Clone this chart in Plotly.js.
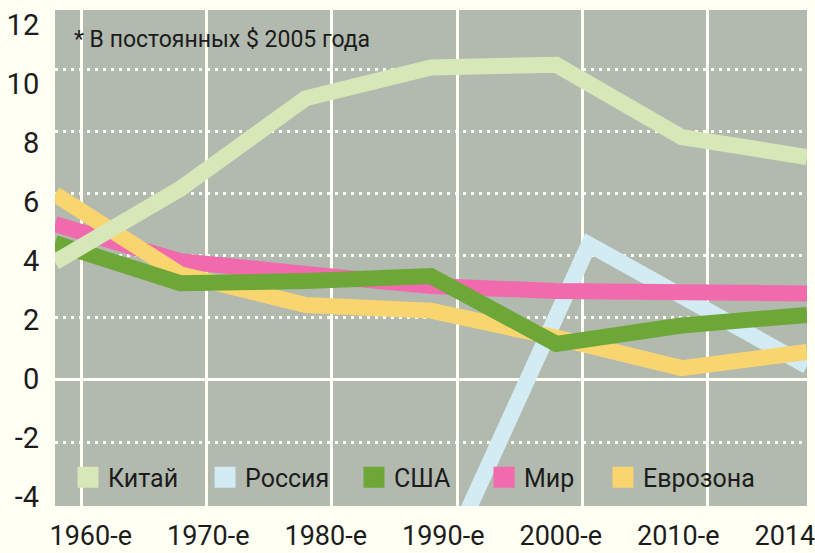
<!DOCTYPE html>
<html>
<head>
<meta charset="utf-8">
<script src="https://cdn.plot.ly/plotly-3.0.1.min.js"></script>
<style>
  html, body { margin: 0; padding: 0; background: #fffff4; }
  #chart { width: 815px; height: 553px; }
  #chart .scatterlayer path.js-line { stroke-linejoin: miter !important; }
</style>
</head>
<body>
<div id="chart"></div>
<script>
// ---- data ----
const categories = ['1960-е', '1970-е', '1980-е', '1990-е', '2000-е', '2010-е', '2014'];
const china    = [3.79, 6.15, 9.06, 10.05, 10.14, 7.81, 7.17];
const usa      = [4.40, 3.11, 3.18, 3.34, 1.16, 1.75, 2.09];
const world    = [5.01, 3.82, 3.41, 3.02, 2.86, 2.80, 2.78];
const eurozone = [5.97, 3.40, 2.41, 2.23, 1.36, 0.38, 0.90];
const russiaX  = [3.26, 4.26, 6];
const russia   = [-4.5, 4.36, 0.45];
const yTickVals = [-4, -2, 0, 2, 4, 6, 8, 10, 12];
const yTickText = ['-4', '-2', '0', '2', '4', '6', '8', '10', '12'];
const seriesNames = ['Китай', 'Россия', 'США', 'Мир', 'Еврозона'];
const note = '* В постоянных $ 2005 года';

// ---- styling ----
const colors = {
  'Китай': '#d7e8b8',
  'Россия': '#d3ebf2',
  'США': '#6ca737',
  'Мир': '#f26aae',
  'Еврозона': '#f9d56f'
};
const legendX = [0.0173, 0.1995, 0.3976, 0.5705, 0.7287];
const cream = '#fffff4';
const txt = '#1c1c1c';
const FONT = 'Roboto, "DejaVu Sans", sans-serif';
const xIdx = categories.map((_, i) => i);
const LW = 16;

function lineTrace(name, x, y) {
  return {
    type: 'scatter', mode: 'lines', name: name, x: x, y: y,
    line: { color: colors[name], width: LW },
    showlegend: false, hoverinfo: 'skip', xaxis: 'x', yaxis: 'y'
  };
}

const traces = [
  lineTrace('Россия', russiaX, russia),
  lineTrace('Мир', xIdx, world),
  lineTrace('Еврозона', xIdx, eurozone),
  lineTrace('США', xIdx, usa),
  lineTrace('Китай', xIdx, china)
];

const layout = {
  width: 815, height: 553,
  margin: { l: 55, r: 8, t: 10, b: 47 },
  paper_bgcolor: cream,
  plot_bgcolor: '#b2b9ae',
  font: { family: FONT, color: txt },
  showlegend: true,
  xaxis: {
    type: 'linear', range: [0, 6], tickmode: 'linear', tick0: 0.21, dtick: 1,
    showgrid: true, gridcolor: cream, gridwidth: 3,
    showticklabels: false, ticks: '', zeroline: false, showline: false, fixedrange: true
  },
  xaxis2: {
    type: 'linear', overlaying: 'x', anchor: 'y', side: 'bottom',
    range: [0, 6.4], tickmode: 'array', tickvals: xIdx, ticktext: categories,
    ticklabelposition: 'outside right', ticklabelshift: -6, ticklabelstandoff: 6,
    ticklabeloverflow: 'allow',
    ticks: 'outside', ticklen: 6, tickcolor: 'rgba(0,0,0,0)',
    tickfont: { family: FONT, size: 27, color: txt },
    showgrid: false, zeroline: false, showline: false, fixedrange: true
  },
  yaxis: {
    type: 'linear', range: [-4.056, 11.90],
    tickmode: 'array', tickvals: [-2, 0, 2, 4, 6, 8, 10],
    showgrid: true, gridcolor: cream, gridwidth: 3, griddash: '3px,5px',
    zeroline: true, zerolinecolor: cream, zerolinewidth: 3,
    showticklabels: false, ticks: '', showline: false, fixedrange: true
  },
  yaxis2: {
    type: 'linear', overlaying: 'y', anchor: 'x', side: 'left',
    range: [-4.304, 12.49], tickmode: 'array', tickvals: yTickVals, ticktext: yTickText,
    ticks: 'outside', ticklen: 9, tickcolor: 'rgba(0,0,0,0)',
    tickfont: { family: FONT, size: 29, color: txt },
    showgrid: false, zeroline: false, showline: false, fixedrange: true
  },
  annotations: [{
    text: note, xref: 'paper', yref: 'paper', x: 0.022, y: 0.9415,
    xanchor: 'left', yanchor: 'middle', showarrow: false,
    font: { family: FONT, size: 23, color: txt }
  }]
};

// legend entries (square swatches), one legend box per entry
seriesNames.forEach((n, i) => {
  const key = i === 0 ? 'legend' : 'legend' + (i + 1);
  layout[key] = {
    orientation: 'h', x: legendX[i], xanchor: 'left', y: 0.0575, yanchor: 'middle',
    bgcolor: 'rgba(0,0,0,0)', font: { family: FONT, size: 25, color: txt }
  };
  traces.push({
    type: 'scatter', mode: 'markers', name: n, x: [null], y: [null],
    marker: { symbol: 'square', size: 16, color: colors[n], line: { color: colors[n], width: 5 } },
    showlegend: true, legend: key, hoverinfo: 'skip', xaxis: 'x2', yaxis: 'y2'
  });
});

Plotly.newPlot('chart', traces, layout, { displayModeBar: false, staticPlot: true });
</script>
</body>
</html>
